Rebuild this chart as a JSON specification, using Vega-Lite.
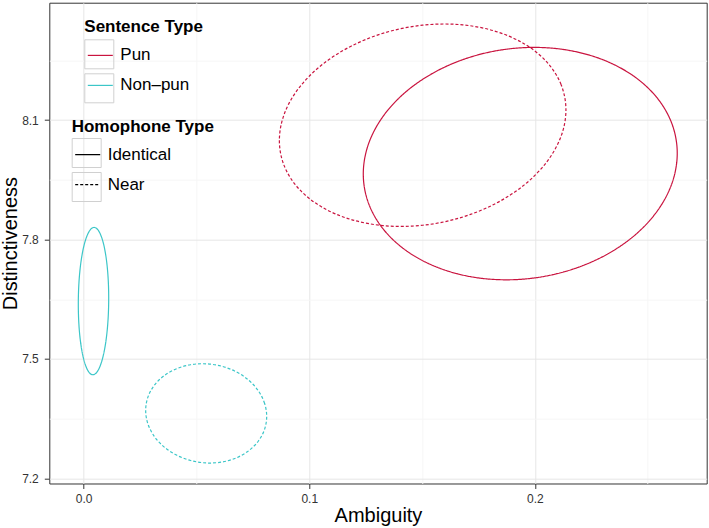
{
  "$schema": "https://vega.github.io/schema/vega-lite/v6.json",
  "autosize": "none",
  "width": 657.4,
  "height": 480.8,
  "padding": {"left": 49.3, "top": 2.7, "right": 2, "bottom": 44},
  "background": "white",
  "data": {"values": [
    {"s":"Pun","h":"Identical","i":0,"x":0.26305,"y":8.0168},
    {"s":"Pun","h":"Identical","i":1,"x":0.26068,"y":8.0912},
    {"s":"Pun","h":"Identical","i":2,"x":0.25373,"y":8.1587},
    {"s":"Pun","h":"Identical","i":3,"x":0.24268,"y":8.2148},
    {"s":"Pun","h":"Identical","i":4,"x":0.22827,"y":8.2556},
    {"s":"Pun","h":"Identical","i":5,"x":0.21149,"y":8.2784},
    {"s":"Pun","h":"Identical","i":6,"x":0.19349,"y":8.2816},
    {"s":"Pun","h":"Identical","i":7,"x":0.17549,"y":8.2650},
    {"s":"Pun","h":"Identical","i":8,"x":0.15871,"y":8.2297},
    {"s":"Pun","h":"Identical","i":9,"x":0.14430,"y":8.1781},
    {"s":"Pun","h":"Identical","i":10,"x":0.13325,"y":8.1137},
    {"s":"Pun","h":"Identical","i":11,"x":0.12630,"y":8.0410},
    {"s":"Pun","h":"Identical","i":12,"x":0.12393,"y":7.9648},
    {"s":"Pun","h":"Identical","i":13,"x":0.12630,"y":7.8904},
    {"s":"Pun","h":"Identical","i":14,"x":0.13325,"y":7.8229},
    {"s":"Pun","h":"Identical","i":15,"x":0.14430,"y":7.7668},
    {"s":"Pun","h":"Identical","i":16,"x":0.15871,"y":7.7259},
    {"s":"Pun","h":"Identical","i":17,"x":0.17549,"y":7.7031},
    {"s":"Pun","h":"Identical","i":18,"x":0.19349,"y":7.6999},
    {"s":"Pun","h":"Identical","i":19,"x":0.21149,"y":7.7166},
    {"s":"Pun","h":"Identical","i":20,"x":0.22827,"y":7.7519},
    {"s":"Pun","h":"Identical","i":21,"x":0.24268,"y":7.8035},
    {"s":"Pun","h":"Identical","i":22,"x":0.25373,"y":7.8679},
    {"s":"Pun","h":"Identical","i":23,"x":0.26068,"y":7.9406},
    {"s":"Pun","h":"Near","i":0,"x":0.21373,"y":8.1256},
    {"s":"Pun","h":"Near","i":1,"x":0.21157,"y":8.1894},
    {"s":"Pun","h":"Near","i":2,"x":0.20522,"y":8.2462},
    {"s":"Pun","h":"Near","i":3,"x":0.19513,"y":8.2921},
    {"s":"Pun","h":"Near","i":4,"x":0.18199,"y":8.3241},
    {"s":"Pun","h":"Near","i":5,"x":0.16667,"y":8.3400},
    {"s":"Pun","h":"Near","i":6,"x":0.15024,"y":8.3386},
    {"s":"Pun","h":"Near","i":7,"x":0.13381,"y":8.3201},
    {"s":"Pun","h":"Near","i":8,"x":0.11850,"y":8.2857},
    {"s":"Pun","h":"Near","i":9,"x":0.10535,"y":8.2378},
    {"s":"Pun","h":"Near","i":10,"x":0.09526,"y":8.1797},
    {"s":"Pun","h":"Near","i":11,"x":0.08891,"y":8.1152},
    {"s":"Pun","h":"Near","i":12,"x":0.08675,"y":8.0488},
    {"s":"Pun","h":"Near","i":13,"x":0.08891,"y":7.9850},
    {"s":"Pun","h":"Near","i":14,"x":0.09526,"y":7.9282},
    {"s":"Pun","h":"Near","i":15,"x":0.10535,"y":7.8823},
    {"s":"Pun","h":"Near","i":16,"x":0.11850,"y":7.8503},
    {"s":"Pun","h":"Near","i":17,"x":0.13381,"y":7.8344},
    {"s":"Pun","h":"Near","i":18,"x":0.15024,"y":7.8358},
    {"s":"Pun","h":"Near","i":19,"x":0.16667,"y":7.8543},
    {"s":"Pun","h":"Near","i":20,"x":0.18199,"y":7.8887},
    {"s":"Pun","h":"Near","i":21,"x":0.19513,"y":7.9366},
    {"s":"Pun","h":"Near","i":22,"x":0.20522,"y":7.9948},
    {"s":"Pun","h":"Near","i":23,"x":0.21157,"y":8.0592},
    {"s":"Non–pun","h":"Identical","i":0,"x":0.011121,"y":7.6527},
    {"s":"Non–pun","h":"Identical","i":1,"x":0.010892,"y":7.7003},
    {"s":"Non–pun","h":"Identical","i":2,"x":0.010219,"y":7.7442},
    {"s":"Non–pun","h":"Identical","i":3,"x":0.009148,"y":7.7813},
    {"s":"Non–pun","h":"Identical","i":4,"x":0.007754,"y":7.8091},
    {"s":"Non–pun","h":"Identical","i":5,"x":0.006129,"y":7.8258},
    {"s":"Non–pun","h":"Identical","i":6,"x":0.004386,"y":7.8302},
    {"s":"Non–pun","h":"Identical","i":7,"x":0.002643,"y":7.8220},
    {"s":"Non–pun","h":"Identical","i":8,"x":0.001018,"y":7.8017},
    {"s":"Non–pun","h":"Identical","i":9,"x":-0.000376,"y":7.7708},
    {"s":"Non–pun","h":"Identical","i":10,"x":-0.001447,"y":7.7314},
    {"s":"Non–pun","h":"Identical","i":11,"x":-0.00212,"y":7.6860},
    {"s":"Non–pun","h":"Identical","i":12,"x":-0.002349,"y":7.6379},
    {"s":"Non–pun","h":"Identical","i":13,"x":-0.00212,"y":7.5903},
    {"s":"Non–pun","h":"Identical","i":14,"x":-0.001447,"y":7.5465},
    {"s":"Non–pun","h":"Identical","i":15,"x":-0.000376,"y":7.5094},
    {"s":"Non–pun","h":"Identical","i":16,"x":0.001018,"y":7.4815},
    {"s":"Non–pun","h":"Identical","i":17,"x":0.002643,"y":7.4648},
    {"s":"Non–pun","h":"Identical","i":18,"x":0.004386,"y":7.4604},
    {"s":"Non–pun","h":"Identical","i":19,"x":0.006129,"y":7.4686},
    {"s":"Non–pun","h":"Identical","i":20,"x":0.007754,"y":7.4889},
    {"s":"Non–pun","h":"Identical","i":21,"x":0.009148,"y":7.5198},
    {"s":"Non–pun","h":"Identical","i":22,"x":0.010219,"y":7.5593},
    {"s":"Non–pun","h":"Identical","i":23,"x":0.010892,"y":7.6046},
    {"s":"Non–pun","h":"Near","i":0,"x":0.08113,"y":7.3556},
    {"s":"Non–pun","h":"Near","i":1,"x":0.08022,"y":7.3881},
    {"s":"Non–pun","h":"Near","i":2,"x":0.07754,"y":7.4189},
    {"s":"Non–pun","h":"Near","i":3,"x":0.07328,"y":7.4459},
    {"s":"Non–pun","h":"Near","i":4,"x":0.06773,"y":7.4673},
    {"s":"Non–pun","h":"Near","i":5,"x":0.06126,"y":7.4815},
    {"s":"Non–pun","h":"Near","i":6,"x":0.05432,"y":7.4877},
    {"s":"Non–pun","h":"Near","i":7,"x":0.04738,"y":7.4854},
    {"s":"Non–pun","h":"Near","i":8,"x":0.04092,"y":7.4747},
    {"s":"Non–pun","h":"Near","i":9,"x":0.03536,"y":7.4565},
    {"s":"Non–pun","h":"Near","i":10,"x":0.03110,"y":7.4319},
    {"s":"Non–pun","h":"Near","i":11,"x":0.02842,"y":7.4026},
    {"s":"Non–pun","h":"Near","i":12,"x":0.02751,"y":7.3706},
    {"s":"Non–pun","h":"Near","i":13,"x":0.02842,"y":7.3381},
    {"s":"Non–pun","h":"Near","i":14,"x":0.03110,"y":7.3073},
    {"s":"Non–pun","h":"Near","i":15,"x":0.03536,"y":7.2803},
    {"s":"Non–pun","h":"Near","i":16,"x":0.04092,"y":7.2590},
    {"s":"Non–pun","h":"Near","i":17,"x":0.04738,"y":7.2448},
    {"s":"Non–pun","h":"Near","i":18,"x":0.05432,"y":7.2386},
    {"s":"Non–pun","h":"Near","i":19,"x":0.06126,"y":7.2409},
    {"s":"Non–pun","h":"Near","i":20,"x":0.06773,"y":7.2515},
    {"s":"Non–pun","h":"Near","i":21,"x":0.07328,"y":7.2698},
    {"s":"Non–pun","h":"Near","i":22,"x":0.07754,"y":7.2944},
    {"s":"Non–pun","h":"Near","i":23,"x":0.08022,"y":7.3237}
  ]},
  "encoding": {
    "x": {
      "field": "x", "type": "quantitative",
      "scale": {"domain": [-0.0152, 0.2761], "nice": false, "zero": false},
      "axis": {
        "title": "Ambiguity",
        "values": [0, 0.05, 0.1, 0.15, 0.2, 0.25],
        "labelExpr": "round(datum.value*20) % 2 == 0 ? format(datum.value, '.1f') : ''",
        "gridColor": {"condition": {"test": "round(datum.value*20) % 2 == 0", "value": "#e6e6e6"}, "value": "#f6f6f6"},
        "tickOpacity": {"condition": {"test": "round(datum.value*20) % 2 == 0", "value": 1}, "value": 0},
        "labelPadding": 5,
        "titlePadding": 1
      }
    },
    "y": {
      "field": "y", "type": "quantitative",
      "scale": {"domain": [7.187, 8.395], "nice": false, "zero": false},
      "axis": {
        "title": "Distinctiveness",
        "values": [7.2, 7.35, 7.5, 7.65, 7.8, 7.95, 8.1, 8.25],
        "labelExpr": "round((datum.value-7.2)/0.15) % 2 == 0 ? format(datum.value, '.1f') : ''",
        "gridColor": {"condition": {"test": "round((datum.value-7.2)/0.15) % 2 == 0", "value": "#e6e6e6"}, "value": "#f6f6f6"},
        "tickOpacity": {"condition": {"test": "round((datum.value-7.2)/0.15) % 2 == 0", "value": 1}, "value": 0},
        "labelPadding": 6,
        "titlePadding": 1
      }
    }
  },
  "layer": [
    {
      "mark": {"type": "point", "opacity": 0, "filled": false, "color": "#d0d0d0", "shape": "square"},
      "encoding": {
        "shape": {
          "field": "s", "type": "nominal",
          "scale": {"domain": ["Pun", "Non–pun"], "range": ["square", "square"]},
          "legend": {
            "title": null, "orient": "none", "legendX": 35, "legendY": 36.6,
            "symbolSize": 841, "symbolStrokeColor": "#d0d0d0", "symbolFillColor": "transparent",
            "symbolStrokeWidth": 1, "symbolOpacity": 1, "rowPadding": 0,
            "labelExpr": "''",
            "encode": {"symbols": {"update": {"opacity": {"value": 1}, "stroke": {"value": "#d0d0d0"}, "fill": {"value": "transparent"}}}}
          }
        },
        "size": {
          "field": "h", "type": "nominal",
          "scale": {"domain": ["Identical", "Near"], "range": [841, 841]},
          "legend": {
            "title": null, "orient": "none", "legendX": 22.4, "legendY": 135.3,
            "symbolType": "square", "symbolStrokeColor": "#d0d0d0", "symbolFillColor": "transparent",
            "symbolStrokeWidth": 1, "symbolOpacity": 1, "rowPadding": 0,
            "labelExpr": "''",
            "encode": {"symbols": {"update": {"opacity": {"value": 1}, "stroke": {"value": "#d0d0d0"}, "fill": {"value": "transparent"}, "shape": {"value": "square"}}}}
          }
        }
      }
    },
    {
      "mark": {"type": "line", "interpolate": "cardinal-closed", "strokeWidth": 1.2},
      "encoding": {
        "color": {
          "field": "s", "type": "nominal", "sort": ["Pun", "Non–pun"],
          "scale": {"range": ["#c9143f", "#3cc6c8"]},
          "legend": {
            "title": "Sentence Type",
            "orient": "none", "legendX": 35, "legendY": 16.7,
            "symbolType": "M-0.8333,0L0.8333,0", "symbolSize": 900,
            "symbolStrokeWidth": 1.2, "symbolFillColor": "transparent",
            "rowPadding": 6, "labelOffset": 4, "titlePadding": 3
          }
        },
        "strokeDash": {
          "field": "h", "type": "nominal",
          "scale": {"range": [[1, 0], [3, 2]]},
          "legend": {
            "title": "Homophone Type",
            "orient": "none", "legendX": 22.4, "legendY": 116,
            "symbolType": "M-0.8333,0L0.8333,0", "symbolSize": 900,
            "symbolStrokeWidth": 1.2, "symbolStrokeColor": "#000", "symbolFillColor": "transparent",
            "rowPadding": 6, "labelOffset": 4, "titlePadding": 3
          }
        },
        "order": {"field": "i", "type": "quantitative"}
      }
    }
  ],
  "config": {
    "font": "Liberation Sans",
    "view": {"stroke": "#333333", "strokeWidth": 1},
    "axis": {
      "domain": false,
      "labelFont": "Liberation Sans", "labelFontSize": 12, "labelColor": "#333333",
      "tickColor": "#333333", "tickSize": 5, "tickWidth": 1,
      "gridWidth": 1,
      "titleFont": "Liberation Sans", "titleFontSize": 20, "titleFontWeight": "normal", "titleColor": "#000000"
    },
    "legend": {
      "padding": 0,
      "titleFont": "Liberation Sans", "titleFontSize": 17, "titleFontWeight": "bold", "titleColor": "#000000",
      "labelFont": "Liberation Sans", "labelFontSize": 17, "labelColor": "#000000"
    }
  }
}
